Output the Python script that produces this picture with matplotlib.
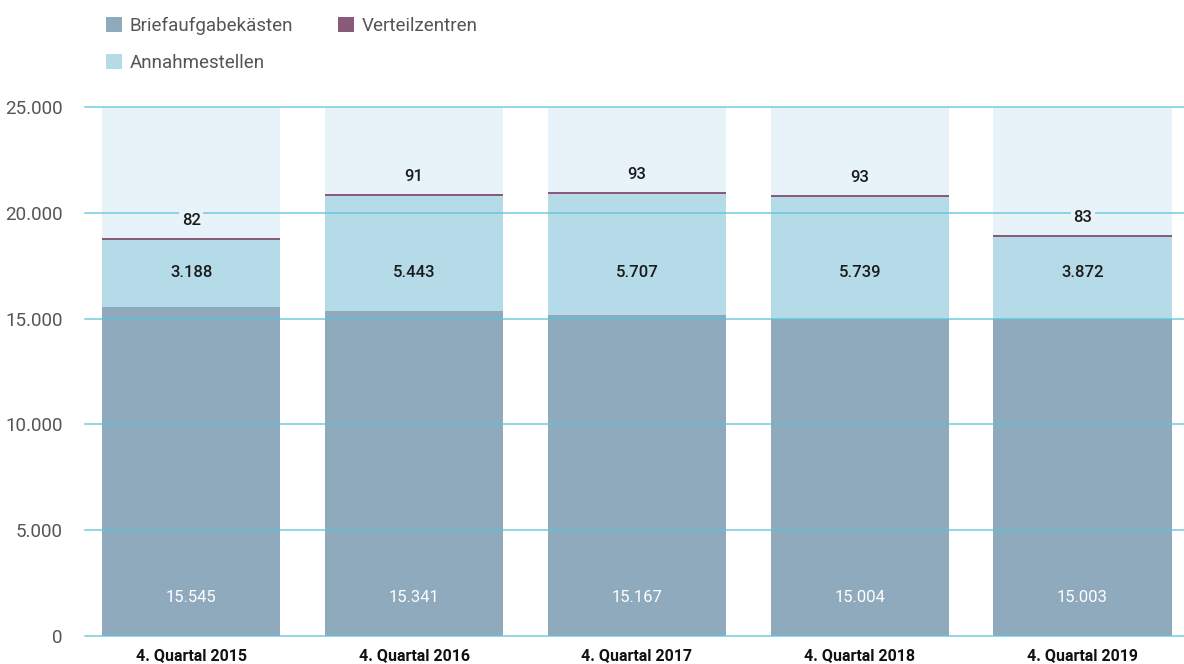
import matplotlib
matplotlib.use("Agg")
import matplotlib.pyplot as plt
import numpy as np

# data
quarters = ["4. Quartal 2015", "4. Quartal 2016", "4. Quartal 2017",
            "4. Quartal 2018", "4. Quartal 2019"]
briefkaesten = [15545, 15341, 15167, 15004, 15003]
annahmestellen = [3188, 5443, 5707, 5739, 3872]
verteilzentren = [82, 91, 93, 93, 83]
y_max = 25000
y_ticks = [0, 5000, 10000, 15000, 20000, 25000]

c_brief = "#8faabc"
c_annahme = "#b5dbe8"
c_verteil = "#8a5a7a"
c_back = "#e7f3f9"
c_grid = "#5bc4d6"

plt.rcParams["font.family"] = ["Roboto", "DejaVu Sans"]


def fmt(v):
    return f"{v:,}".replace(",", ".")


fig = plt.figure(figsize=(11.84, 6.64), dpi=100)
ax = fig.add_axes([85 / 1184, 28 / 664, 1 - 85 / 1184, (636 - 107) / 664])

x = np.arange(len(quarters))
w = 0.8
brief = np.array(briefkaesten)
annahme = np.array(annahmestellen)
verteil = np.array(verteilzentren)

ax.bar(x, [y_max] * len(x), w, color=c_back, zorder=1)
h1 = ax.bar(x, brief, w, color=c_brief, zorder=2, label="Briefaufgabekästen")
h3 = ax.bar(x, annahme, w, bottom=brief, color=c_annahme, zorder=2,
            label="Annahmestellen")
h2 = ax.bar(x, verteil, w, bottom=brief + annahme, color=c_verteil, zorder=2,
            label="Verteilzentren")

for yt in y_ticks:
    ax.axhline(yt, color=c_grid, lw=1.1, alpha=0.85, zorder=3, clip_on=False)

for i in x:
    ax.text(i, 1800, fmt(brief[i]), ha="center", va="center", color="white",
            fontsize=12, zorder=5)
    ax.text(i, 17200, fmt(annahme[i]), ha="center", va="center",
            color="#1a1a1a", fontsize=12, fontweight="medium", zorder=5)
    top = brief[i] + annahme[i] + verteil[i]
    ax.text(i, top + 820, fmt(verteil[i]), ha="center", va="center",
            color="#1a1a1a", fontsize=12, fontweight="medium", zorder=5,
            bbox=dict(boxstyle="square,pad=0.15", fc=c_back, ec="none"))

ax.set_xlim(-0.477, 4.455)
ax.set_ylim(0, y_max)
ax.set_yticks(y_ticks)
ax.set_yticklabels([fmt(t) for t in y_ticks], color="#555555", fontsize=13.5)
ax.set_xticks(x)
ax.set_xticklabels(quarters, fontsize=11.5, fontweight="bold", color="#111111")
ax.tick_params(axis="y", length=0, pad=16)
ax.tick_params(axis="x", length=0, pad=9)
for s in ax.spines.values():
    s.set_visible(False)

fig.legend([h1, h3, h2], ["Briefaufgabekästen", "Annahmestellen", "Verteilzentren"],
           ncol=2, loc="upper left", bbox_to_anchor=(89 / 1184, 1.0),
           frameon=False, fontsize=13.5, labelcolor="#555555",
           handlelength=0.85, handleheight=0.85, handletextpad=0.4,
           columnspacing=2.4, labelspacing=1.0)

fig.savefig("out.png", dpi=100)
